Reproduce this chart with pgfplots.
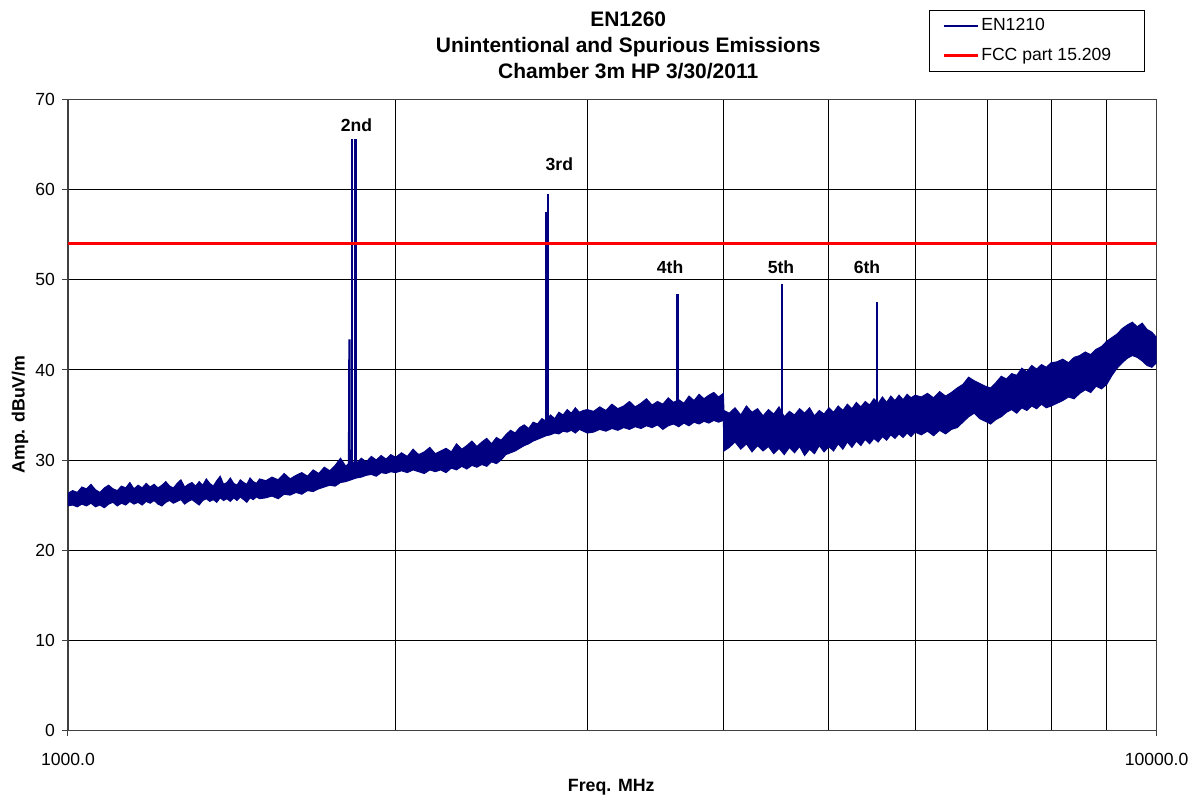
\documentclass[border=0pt]{standalone}
\usepackage{fontspec}
\setmainfont{Liberation Sans}
\usepackage{pgfplots}
\pgfplotsset{compat=1.18}
\usepackage{pgfplotstable}
\usepgfplotslibrary{fillbetween}
\definecolor{navy}{RGB}{0,0,128}

\pgfplotstableread{
f lo hi
1000 24.9 26.3
1010 25.0 26.6
1020 24.8 26.4
1030 25.1 27.0
1040 24.9 26.8
1050 25.2 27.3
1060 24.8 26.7
1070 25.0 26.4
1080 24.7 26.9
1090 25.1 27.2
1100 25.3 26.8
1110 24.9 26.6
1120 25.2 27.1
1130 25.0 26.9
1140 25.4 27.5
1150 25.1 26.8
1160 25.3 27.2
1170 25.0 26.9
1180 25.4 27.4
1190 25.2 27.0
1200 25.5 27.3
1210 25.1 26.9
1220 24.9 27.2
1230 25.3 27.6
1240 25.5 27.1
1250 25.2 26.9
1260 25.4 27.4
1270 25.6 27.8
1280 25.1 27.0
1290 25.4 27.3
1300 25.6 27.5
1310 25.3 27.1
1320 25.0 27.6
1330 25.5 27.2
1340 25.7 27.9
1350 25.4 27.4
1360 25.6 27.1
1370 25.3 27.7
1380 25.8 28.2
1390 25.5 27.3
1400 25.7 27.5
1410 25.4 28.0
1420 25.8 27.4
1430 25.5 27.2
1440 25.9 27.8
1450 25.6 27.5
1460 25.3 27.3
1470 25.8 28.0
1480 25.6 27.6
1490 25.9 27.4
1500 25.7 27.9
1520 25.8 27.7
1540 26.0 28.1
1560 25.7 27.8
1580 26.2 28.5
1600 26.1 27.9
1620 26.4 28.3
1640 26.2 28.6
1660 26.6 28.2
1680 26.5 28.9
1700 26.8 28.5
1720 27.0 29.2
1740 27.2 28.8
1760 27.1 29.4
1780 27.5 30.2
1800 27.6 29.3
1820 27.8 29.9
1840 28.0 29.6
1860 28.1 30.2
1880 28.3 29.8
1900 28.4 30.4
1920 28.2 30.0
1940 28.6 30.5
1960 28.5 30.1
1980 28.7 30.6
2000 28.6 30.3
2025 28.8 30.8
2050 28.6 30.4
2075 28.9 31.2
2100 28.7 30.6
2125 28.5 30.9
2150 28.9 31.4
2175 28.7 30.7
2200 28.9 31.0
2225 28.6 31.3
2250 29.1 30.9
2275 28.9 31.8
2300 29.3 31.2
2325 29.0 31.6
2350 29.4 32.1
2375 29.2 31.5
2400 29.5 32.0
2425 29.3 32.4
2450 29.8 31.8
2475 29.6 32.5
2500 30.0 32.2
2525 30.6 32.8
2550 30.8 33.3
2575 31.0 33.0
2600 31.3 33.6
2625 31.6 33.9
2650 31.8 33.5
2675 32.1 34.2
2700 32.3 34.0
2725 32.5 34.6
2750 32.7 34.3
2775 32.8 35.0
2800 33.0 34.6
2825 32.9 35.3
2850 33.2 35.0
2875 33.1 35.6
2900 33.3 35.2
2925 33.0 35.8
2950 33.4 35.3
2975 33.2 35.5
3000 33.0 35.6
3040 33.1 35.4
3080 33.4 35.9
3120 33.2 35.5
3160 33.5 36.2
3200 33.3 35.7
3240 33.6 36.0
3280 33.4 36.5
3320 33.7 35.9
3360 33.5 36.3
3400 33.8 36.8
3440 33.6 36.1
3480 33.9 36.5
3520 33.4 36.2
3560 33.8 36.9
3600 34.0 36.4
3640 33.7 36.7
3680 34.1 36.3
3720 33.8 37.1
3760 34.2 36.6
3800 34.0 37.3
3840 34.3 36.8
3880 34.1 37.2
3920 34.4 37.5
3960 34.2 37.0
4000 34.4 37.4
4005 31.0 35.5
4050 31.4 35.2
4100 32.0 35.8
4150 31.2 35.0
4200 31.8 36.0
4250 30.9 35.3
4300 31.6 35.7
4350 31.0 34.9
4400 31.5 35.6
4450 30.7 35.1
4500 31.3 35.9
4550 30.6 34.8
4600 31.4 35.4
4650 30.8 35.0
4700 31.5 35.7
4750 30.5 35.2
4800 31.2 35.8
4850 30.7 34.9
4900 31.6 35.5
4950 30.9 35.1
5000 31.5 35.8
5050 31.0 35.3
5100 31.8 36.0
5150 31.2 35.5
5200 32.0 36.2
5250 31.4 35.7
5300 32.1 36.4
5350 31.6 35.9
5400 32.3 36.5
5450 31.8 36.1
5500 32.4 36.8
5550 32.0 36.3
5600 32.6 37.0
5650 32.2 36.4
5700 32.8 37.1
5750 32.4 36.6
5800 32.9 37.2
5850 32.5 36.7
5900 33.0 37.3
5950 32.6 36.9
6000 33.1 37.2
6080 32.8 37.0
6160 33.2 37.4
6240 32.7 36.9
6320 33.3 37.6
6400 32.9 37.1
6480 33.4 37.5
6560 33.6 38.0
6640 34.2 38.4
6720 34.8 39.2
6800 35.2 38.8
6880 34.6 38.5
6960 34.3 38.2
7040 34.0 38.0
7120 34.5 38.6
7200 34.8 39.3
7280 35.3 39.0
7360 35.6 39.6
7440 35.2 39.4
7520 35.8 40.2
7600 35.5 39.8
7680 36.0 40.5
7760 35.7 40.1
7840 36.2 40.6
7920 35.8 40.3
8000 36.0 40.8
8100 36.3 40.9
8200 36.6 41.2
8300 37.0 40.8
8400 36.8 41.4
8500 37.4 41.6
8600 37.8 42.0
8700 37.5 41.7
8800 38.2 42.3
8900 37.9 42.6
9000 38.4 43.2
9100 39.4 43.6
9200 40.2 44.0
9300 40.8 44.6
9400 41.3 45.0
9500 41.6 45.3
9600 41.4 44.8
9700 41.0 45.2
9800 40.5 44.5
9900 40.3 44.2
10000 40.8 43.6
}\noise

\begin{document}
\begin{tikzpicture}
\begin{axis}[
  at={(0,0)}, anchor=south west,
  width=545pt, height=315.5pt, scale only axis,
  xmode=log, xmin=1000, xmax=10000, ymin=0, ymax=70,
  xtick={1000,10000}, xticklabels={1000.0,10000.0},
  ytick={0,10,...,70},
  minor xtick={2000,3000,4000,5000,6000,7000,8000,9000},
  xminorgrids=true, ymajorgrids=true,
  grid style={black, line width=0.5pt},
  minor grid style={black, line width=0.5pt},
  tick align=outside, major tick length=3pt, minor tick length=0pt,
  xtick pos=lower, ytick pos=left,
  tick style={black!75, line width=0.5pt},
  axis line style={black!75, line width=0.6pt},
  ticklabel style={font=\fontsize{8.8}{10}\selectfont},
  xticklabel style={yshift=-5pt},
  /pgf/number format/assume math mode=true,
  legend style={at={(0.989,1.1426)}, anchor=north east, draw=black, line width=0.5pt,
    fill=white, font=\fontsize{8.8}{10}\selectfont, inner xsep=6.5pt, inner ysep=2.5pt,
    row sep=4.5pt, nodes={inner xsep=1pt, inner ysep=1pt, text height=6.5pt, text depth=2pt}},
  legend cell align=left,
]
\addplot[draw=navy, line width=0.5pt, name path=U, forget plot] table[x=f, y=hi] {\noise};
\addplot[draw=navy, line width=0.5pt, name path=L, forget plot] table[x=f, y=lo] {\noise};
\addplot[fill=navy, draw=none, forget plot] fill between[of=U and L];
% harmonic spikes
\addplot[navy, line width=1.1pt, forget plot] coordinates {(1812,29) (1813,36) (1814,43.4) (1815,29.5)};
\addplot[navy, line width=1.2pt, forget plot] coordinates {(1825,29.5) (1825,65.7)};
\addplot[navy, line width=1.2pt, forget plot] coordinates {(1837,29.5) (1837,65.6)};
\addplot[navy, line width=1.1pt, forget plot] coordinates {(2751,34) (2751,57.6)};
\addplot[navy, line width=1.1pt, forget plot] coordinates {(2759,34) (2759,59.5)};
\addplot[navy, line width=1.1pt, forget plot] coordinates {(3630,36) (3630,48.4)};
\addplot[navy, line width=1.1pt, forget plot] coordinates {(4526,34) (4526,49.5)};
\addplot[navy, line width=1.1pt, forget plot] coordinates {(5532,35) (5532,47.6)};
\addlegendimage{navy, line width=0.6pt}
\addlegendentry{EN1210}
\addplot[red, line width=1.5pt] coordinates {(1000,54) (10000,54)};
\addlegendentry{\makebox[74pt][l]{FCC part 15.209}}
\node[font=\bfseries\fontsize{8.8}{10}\selectfont] at (axis cs:1841,67.2) {2nd};
\node[font=\bfseries\fontsize{8.8}{10}\selectfont] at (axis cs:2828,62.9) {3rd};
\node[font=\bfseries\fontsize{8.8}{10}\selectfont] at (axis cs:3574,51.4) {4th};
\node[font=\bfseries\fontsize{8.8}{10}\selectfont] at (axis cs:4519,51.4) {5th};
\node[font=\bfseries\fontsize{8.8}{10}\selectfont] at (axis cs:5420,51.4) {6th};
\end{axis}
\node[align=center, font=\bfseries\fontsize{10.5}{13}\selectfont] at (280.5pt,343pt)
  {EN1260\\Unintentional and Spurious Emissions\\Chamber 3m HP 3/30/2011};
\node[rotate=90, font=\bfseries\fontsize{8.9}{10}\selectfont] at (-24pt,158pt) {Amp. dBuV/m};
\node[font=\bfseries\fontsize{8.9}{10}\selectfont] at (272pt,-28.5pt) {Freq. MHz};
\path (-34pt,-35pt) rectangle (563.5pt,365.5pt);
\end{tikzpicture}
\end{document}
